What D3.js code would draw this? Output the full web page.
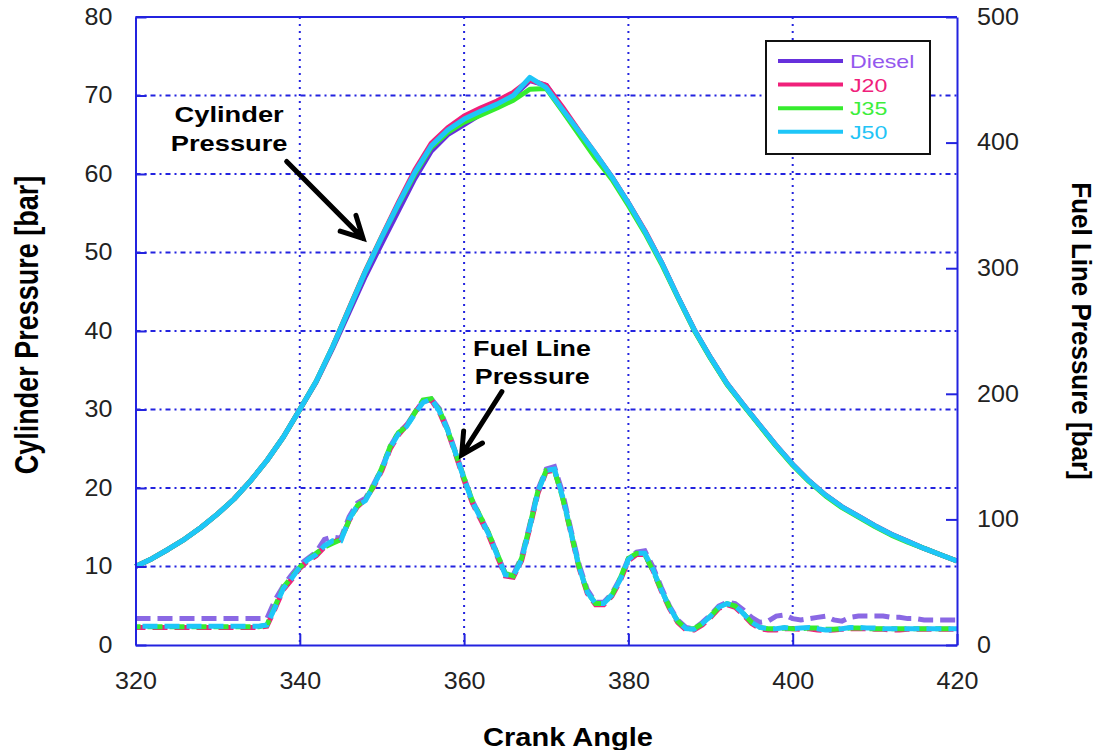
<!DOCTYPE html>
<html>
<head>
<meta charset="utf-8">
<script src="https://cdn.jsdelivr.net/npm/d3@7"></script>
<style>
  body { margin: 0; background: #fff; }
  svg { display: block; }
  text { font-family: "Liberation Sans", Arial, sans-serif; }
</style>
</head>
<body>
<svg id="chart" width="1099" height="750"></svg>
<script>
// ---- data -------------------------------------------------------------
const fuels = ["Diesel", "J20", "J35", "J50"];

// crank angle samples for cylinder pressure (deg)
const crankCyl = [320,322,324,326,328,330,332,334,336,338,340,342,344,346,348,350,352,354,356,358,
  360,362,364,366,368,370,372,374,376,378,380,382,384,386,388,390,392,394,396,398,
  400,402,404,406,408,410,412,414,416,418,420];

// cylinder pressure [bar]
const cylDiesel = [10.0,11.0,12.2,13.5,15.0,16.7,18.6,20.9,23.5,26.5,
  30.0,33.5,37.8,42.4,47.0,51.2,55.3,59.4,62.9,65.0,
  66.3,67.6,68.7,69.9,71.9,71.3,68.3,65.4,62.5,59.6,
  56.3,52.7,48.8,44.4,40.2,36.6,33.3,30.6,28.0,25.4,
  23.0,20.9,19.1,17.6,16.4,15.2,14.1,13.2,12.3,11.5,10.7];
const cylJ20 = [10.0,11.0,12.2,13.5,15.0,16.7,18.6,20.9,23.5,26.5,
  30.0,33.6,38.0,42.9,47.7,52.1,56.4,60.5,63.9,65.9,
  67.4,68.4,69.3,70.4,72.0,71.3,68.5,65.5,62.6,59.6,
  56.3,52.8,48.8,44.4,40.2,36.6,33.3,30.6,28.0,25.4,
  23.0,20.9,19.1,17.6,16.4,15.2,14.1,13.2,12.3,11.5,10.7];
const cylJ35 = [10.0,11.0,12.2,13.5,15.0,16.7,18.6,20.9,23.5,26.5,
  30.0,33.6,38.0,42.8,47.6,52.0,56.1,60.0,63.4,65.3,
  66.6,67.5,68.4,69.4,70.8,70.9,68.0,65.0,62.0,59.3,
  56.0,52.5,48.6,44.3,40.1,36.5,33.2,30.5,27.9,25.3,
  22.9,20.8,19.0,17.5,16.3,15.1,14.0,13.1,12.3,11.5,10.7];
const cylJ50 = [10.0,11.0,12.2,13.5,15.0,16.7,18.6,20.9,23.5,26.5,
  30.0,33.6,38.0,42.8,47.6,52.0,56.2,60.2,63.6,65.6,
  67.0,68.0,68.9,70.0,72.3,71.0,68.2,65.4,62.6,59.6,
  56.3,52.7,48.8,44.4,40.2,36.6,33.3,30.6,28.0,25.4,
  23.0,20.9,19.1,17.6,16.4,15.2,14.1,13.2,12.3,11.5,10.7];

// crank angle samples for fuel line pressure (deg)
const crankFuel = [320,321,322,323,324,325,326,327,328,329,330,331,332,333,334,335,
  336,337,338,339,340,341,342,343,344,345,346,347,348,349,350,351,352,353,354,355,
  356,357,358,359,360,361,362,363,364,365,366,367,368,369,370,371,372,373,374,375,
  376,377,378,379,380,381,382,383,384,385,386,387,388,389,390,391,392,393,394,395,
  396,397,398,399,400,401,402,403,404,405,406,407,408,409,410,411,412,413,414,415,
  416,417,418,419,420];

// fuel line pressure [bar]
const fuelDiesel = [21,21,21,21,21,21,21,21,21,21,21,21,21,21,21,21,
  21,36,47,56,64,69,74,84,86,85,
  102,113,117,128,141,158,169,175,185,194,
  196,188,172,153,133,115,102,89,73,57,
  56,70,96,124,140,142,121,92,64,44,
  34,34,41,53,69,74,75,62,46,31,
  20,14,13,18,24,31,34,33,28,22,
  18,19,23,24,21,20,21,22,23,20,
  19,22,23,23,23,23,22,22,21,21,
  20,20,20,20,20];
const fuelJ20 = [14,14,14,14,14,14,14,14,14,14,14,14,14,14,14,14,
  15,29,44,52,61,67,71,78,82,84,
  99,110,116,126,139,156,167,175,185,194,
  195,185,170,151,131,113,100,87,71,55,
  54,67,93,121,138,139,117,89,61,41,
  32,32,39,51,67,72,72,59,43,29,
  18,12,12,16,22,29,32,30,24,17,
  13,12,12,13,13,12.5,13,12,11.5,12,
  12.5,13,13,13,12.5,12.5,12,12,12.5,12.5,
  12.5,12.5,12.5,12.5,12.5];
const fuelJ35 = [14.5,14.5,14.5,14.5,14.5,14.5,14.5,14.5,14.5,14.5,14.5,14.5,14.5,14.5,14.5,14.5,
  16,31,46,54,62,68,73,78,81,84,
  99,111,116,127,141,158,169,174,185,195,
  196,187,171,152,133,115,102,89,73,57,
  55,69,95,123,139,139,117,90,62,42,
  33,33,40,53,69,73,72,59,44,30,
  19,13,13,17,23,30,33,31,25,18,
  14,13,13,13.5,13,13,13.5,13.5,12.5,12.5,
  13,13.5,13.5,13,13,13,13,13,13,13,
  13,13,13,13,13];
const fuelJ50 = [15,15,15,15,15,15,15,15,15,15,15,15,15,15,15,15,
  16,30,45,53,62,68,72,79,83,83,
  100,111,115,127,140,157,168,174,184,193,
  196,186,171,152,132,114,101,88,72,56,
  55,68,94,122,139,140,118,90,62,42,
  33,33,40,52,68,73,73,60,44,30,
  19,13,12.5,17,23,30,33,31,25,18,
  14,13,13,14,13,13.5,14,13,12,12,
  13,14,14,13.5,13.5,13,13,13,13,13,
  13,13,13,13,13];

const xTicks = [320, 340, 360, 380, 400, 420];
const yLeftTicks = [0, 10, 20, 30, 40, 50, 60, 70, 80];
const yRightTicks = [0, 100, 200, 300, 400, 500];

// ---- setup ------------------------------------------------------------
const cylSeries = { Diesel: cylDiesel, J20: cylJ20, J35: cylJ35, J50: cylJ50 };
const fuelSeries = { Diesel: fuelDiesel, J20: fuelJ20, J35: fuelJ35, J50: fuelJ50 };
const lineColor = { Diesel: "#6630dc", J20: "#f0207a", J35: "#36ec2e", J50: "#1ec6f8" };
const dashColor = { Diesel: "#8a68e4", J20: "#f0207a", J35: "#36ec2e", J50: "#1ec6f8" };
const textColor = { Diesel: "#9458ee", J20: "#f0207a", J35: "#3cee3c", J50: "#22c4f6" };
const axisBlue = "#2323df";

const svg = d3.select("#chart");
const plot = { left: 135.5, right: 957, top: 17, bottom: 645 };

const x = d3.scaleLinear().domain([320, 420]).range([plot.left, plot.right]);
const yL = d3.scaleLinear().domain([0, 80]).range([plot.bottom, plot.top]);
const yR = d3.scaleLinear().domain([0, 500]).range([plot.bottom, plot.top]);

// stretch text horizontally to the proportions used throughout this figure
function widen(sel, k) {
  sel.each(function () {
    const w = this.getComputedTextLength();
    d3.select(this).attr("textLength", w * k).attr("lengthAdjust", "spacingAndGlyphs");
  });
}

// ---- grid ---------------------------------------------------------------
const grid = svg.append("g");
grid.selectAll("line.h").data(yLeftTicks.filter(d => d > 0 && d < 80)).enter()
  .append("line")
  .attr("x1", plot.left).attr("x2", plot.right)
  .attr("y1", d => yL(d)).attr("y2", d => yL(d))
  .attr("stroke", axisBlue).attr("stroke-width", 2)
  .attr("stroke-dasharray", "5,4,2,4");
grid.selectAll("line.v").data(xTicks.filter(d => d > 320 && d < 420)).enter()
  .append("line")
  .attr("x1", d => x(d)).attr("x2", d => x(d))
  .attr("y1", plot.top).attr("y2", plot.bottom)
  .attr("stroke", axisBlue).attr("stroke-width", 2)
  .attr("stroke-dasharray", "2,5");

// ---- series -----------------------------------------------------------
const lineCyl = d3.line().x((d, i) => x(crankCyl[i])).y(d => yL(d));
const lineFuel = d3.line().x((d, i) => x(crankFuel[i])).y(d => yR(d));

const dashOffset = { Diesel: 0, J20: 5, J35: 10, J50: 15 };
fuels.forEach(f => {
  svg.append("path").datum(fuelSeries[f])
    .attr("d", lineFuel)
    .attr("fill", "none")
    .attr("stroke", dashColor[f])
    .attr("stroke-width", 5)
    .attr("stroke-dasharray", "15,7")
    .attr("stroke-dashoffset", dashOffset[f]);
});
fuels.forEach(f => {
  svg.append("path").datum(cylSeries[f])
    .attr("d", lineCyl)
    .attr("fill", "none")
    .attr("stroke", lineColor[f])
    .attr("stroke-width", 5)
    .attr("stroke-linejoin", "round");
});

// ---- axes -------------------------------------------------------------
function styleAxis(g) {
  g.select(".domain").attr("stroke", axisBlue).attr("stroke-width", 2);
  g.selectAll(".tick line").attr("stroke", axisBlue).attr("stroke-width", 2);
  g.selectAll(".tick text").attr("fill", "#222").style("font-size", "23px");
  widen(g.selectAll(".tick text"), 1.09);
}
svg.append("g").attr("transform", `translate(${plot.left},0)`)
  .call(d3.axisLeft(yL).tickValues(yLeftTicks).tickSizeInner(-11).tickSizeOuter(0).tickPadding(23))
  .call(styleAxis);
svg.append("g").attr("transform", `translate(${plot.right},0)`)
  .call(d3.axisRight(yR).tickValues(yRightTicks).tickSizeInner(-11).tickSizeOuter(0).tickPadding(20))
  .call(styleAxis);
svg.append("g").attr("transform", `translate(0,${plot.bottom})`)
  .call(d3.axisBottom(x).tickValues(xTicks).tickSizeInner(-11).tickSizeOuter(0).tickPadding(28))
  .call(styleAxis);
svg.append("line")
  .attr("x1", plot.left).attr("x2", plot.right)
  .attr("y1", plot.top).attr("y2", plot.top)
  .attr("stroke", axisBlue).attr("stroke-width", 2);

// ---- axis titles --------------------------------------------------------
const xTitle = svg.append("text")
  .attr("x", 568).attr("y", 746)
  .attr("text-anchor", "middle")
  .style("font-size", "25px").style("font-weight", "bold")
  .text("Crank Angle");
widen(xTitle, 1.16);

svg.append("text")
  .attr("transform", "translate(38,325) scale(1.2,1) rotate(-90)")
  .attr("text-anchor", "middle")
  .style("font-size", "27px").style("font-weight", "bold")
  .text("Cylinder Pressure [bar]");

svg.append("text")
  .attr("transform", "translate(1072,331) scale(1.05,1) rotate(90)")
  .attr("text-anchor", "middle")
  .style("font-size", "26px").style("font-weight", "bold")
  .text("Fuel Line Pressure [bar]");

// ---- annotations ------------------------------------------------------
function arrow(x1, y1, x2, y2) {
  const ang = Math.atan2(y2 - y1, x2 - x1);
  const len = 24, spread = Math.PI / 6.5;
  const a1 = [x2 - len * Math.cos(ang - spread), y2 - len * Math.sin(ang - spread)];
  const a2 = [x2 - len * Math.cos(ang + spread), y2 - len * Math.sin(ang + spread)];
  svg.append("path")
    .attr("d", `M${x1},${y1}L${x2},${y2}M${a1[0]},${a1[1]}L${x2},${y2}L${a2[0]},${a2[1]}`)
    .attr("fill", "none").attr("stroke", "#000").attr("stroke-width", 5)
    .attr("stroke-linecap", "round").attr("stroke-linejoin", "miter");
}

const noteStyle = sel => sel.style("font-size", "22px").style("font-weight", "bold").attr("fill", "#000");

const cylNote = svg.append("g");
[["Cylinder", 66.6], ["Pressure", 62.9]].forEach(([t, v]) => {
  const el = cylNote.append("text").attr("x", x(331.4)).attr("y", yL(v))
    .attr("text-anchor", "middle").text(t).call(noteStyle);
  widen(el, 1.24);
});
arrow(x(338.4), yL(61.6), x(347.7), yL(51.8));

const fuelNote = svg.append("g");
[["Fuel Line", 230, 361.1], ["Pressure", 208, 361.3]].forEach(([t, v, c]) => {
  const el = fuelNote.append("text").attr("x", x(c)).attr("y", yR(v))
    .attr("text-anchor", "start").text(t).call(noteStyle);
  widen(el, 1.22);
});
arrow(x(364.6), yR(201.7), x(359.7), yR(151.3));

// ---- legend -------------------------------------------------------------
const legend = svg.append("g").attr("transform", "translate(766,41)");
legend.append("rect").attr("width", 164).attr("height", 113)
  .attr("fill", "#fff").attr("stroke", "#111").attr("stroke-width", 2);
fuels.forEach((f, i) => {
  const yy = 20 + i * 23.6;
  legend.append("line").attr("x1", 12).attr("x2", 77).attr("y1", yy).attr("y2", yy)
    .attr("stroke", lineColor[f]).attr("stroke-width", 4);
  const t = legend.append("text").attr("x", 84).attr("y", yy + 7)
    .attr("fill", textColor[f]).style("font-size", "19px").text(f);
  widen(t, 1.22);
});
</script>
</body>
</html>
